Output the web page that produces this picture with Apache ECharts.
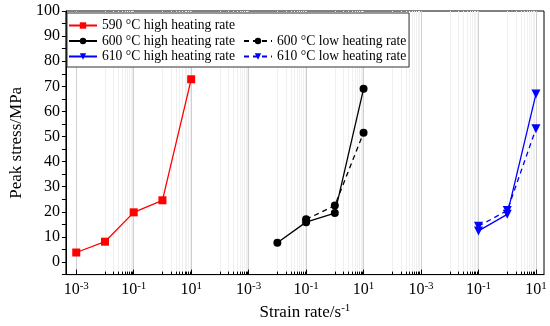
<!DOCTYPE html>
<html><head><meta charset="utf-8">
<script src="https://cdn.jsdelivr.net/npm/echarts@6/dist/echarts.min.js"></script>
<style>html,body{margin:0;padding:0;background:#fff}#c{width:550px;height:326px}</style>
</head><body><div id="c"></div>
<script>
// ---- data ----
const rates590 = [0.001, 0.01, 0.1, 1, 10];
const stress590High = [3.8, 8.1, 19.8, 24.6, 72.8];
const rates600High = [0.01, 0.1, 1, 10];
const stress600High = [7.7, 15.9, 19.5, 69.0];
const rates600Low = [0.1, 1, 10];
const stress600Low = [17.0, 22.5, 51.5];
const rates610 = [0.1, 1, 10];
const stress610High = [12.4, 19.0, 66.9];
const stress610Low = [14.3, 20.5, 53.1];
// broken log axis: each temperature panel shifted by this many decades
const panelDecadeOffsets = [0, 6, 12];
const tickExponents = [-3, -1, 1];
const yTickValues = [0, 10, 20, 30, 40, 50, 60, 70, 80, 90, 100];
const yMinorTickValues = [-5, 0, 5, 10, 15, 20, 25, 30, 35, 40, 45, 50, 55, 60, 65, 70, 75, 80, 85, 90, 95, 100];

const FONT = 'Liberation Serif';
function toX(rate, panel) { return Math.log10(rate) + panelDecadeOffsets[panel]; }

const majorPos = [], majorLabel = {};
panelDecadeOffsets.forEach(off => tickExponents.forEach(e => {
  const p = e + off; majorPos.push(p); majorLabel[p.toFixed(3)] = e;
}));
const minorPos = [];
majorPos.forEach(p => { for (let k = 1; k <= 9; k++) minorPos.push(p + 1 + Math.log10(k)); });

function pts(rates, vals, panel) { return rates.map((r, i) => [toX(r, panel), vals[i]]); }

const RED = '#ff0000', BLK = '#000000', BLU = '#0000ff';
function series(name, data, color, symbol, dashed) {
  return {
    name, type: 'line', data, symbol, symbolSize: symbol === 'triangle' ? 9 : 8,
    symbolRotate: symbol === 'triangle' ? 180 : 0,
    itemStyle: { color }, lineStyle: { color, width: 1.3, type: dashed ? [5, 4] : 'solid' },
    z: 5
  };
}

const legendText = { fontFamily: FONT, fontSize: 13.6, lineHeight: 15, color: '#000' };
const chart = echarts.init(document.getElementById('c'), null, { renderer: 'canvas' });
chart.setOption({
  animation: false,
  backgroundColor: '#fff',
  grid: { left: 57, right: 6, top: 11, bottom: 48, show: true, borderColor: '#000', borderWidth: 1, backgroundColor: 'transparent' },
  legend: [
    {
      data: ['590 °C high heating rate', '600 °C high heating rate', '610 °C high heating rate'],
      orient: 'vertical', left: 67, top: 13, itemWidth: 28, itemHeight: 8, itemGap: 0.5,
      padding: [5, 174, 3, 1], borderColor: '#333', borderWidth: 1, backgroundColor: '#fff',
      textStyle: legendText, z: 10
    },
    {
      data: ['600 °C low heating rate', '610 °C low heating rate'],
      orient: 'vertical', left: 243, top: 33.5, itemWidth: 28, itemHeight: 8, itemGap: 0.5,
      padding: 0, textStyle: legendText, z: 11
    }
  ],
  xAxis: [
    {
      type: 'value', min: -3.36, max: 13.28,
      name: '{a|Strain rate/s}{s|-1}', nameLocation: 'middle', nameGap: 27,
      nameTextStyle: { rich: { a: { fontFamily: FONT, fontSize: 17, color: '#000' }, s: { fontFamily: FONT, fontSize: 11, color: '#000', verticalAlign: 'top', padding: [0, 0, 8, 0] } } },
      axisLine: { onZero: false, lineStyle: { color: '#000', width: 1 } },
      axisTick: { customValues: majorPos, inside: true, length: 5, lineStyle: { color: '#000' } },
      axisLabel: {
        customValues: majorPos, margin: 6,
        formatter: v => '{b|10}{s|' + majorLabel[v.toFixed(3)] + '}',
        rich: { b: { fontFamily: FONT, fontSize: 16, color: '#000' }, s: { fontFamily: FONT, fontSize: 11, color: '#000', verticalAlign: 'top', padding: [0, 0, 8, 0] } }
      },
      splitLine: { show: true, lineStyle: { color: '#d0d0d0', width: 1 } }
    },
    {
      type: 'value', min: -3.36, max: 13.28, position: 'bottom',
      axisLine: { show: false, onZero: false },
      axisTick: { customValues: minorPos, inside: true, length: 3, lineStyle: { color: '#000' } },
      axisLabel: { show: false },
      splitLine: { show: true, lineStyle: { color: '#f0f0f0', width: 1 } }
    }
  ],
  yAxis: [
    {
      type: 'value', min: -5, max: 100,
      name: 'Peak stress/MPa', nameLocation: 'middle', nameGap: 38,
      nameTextStyle: { fontFamily: FONT, fontSize: 17, color: '#000' },
      axisLine: { show: true, onZero: false, lineStyle: { color: '#000', width: 1 } },
      axisTick: { customValues: yMinorTickValues, length: 4, lineStyle: { color: '#000' } },
      axisLabel: { customValues: yTickValues, margin: 6, fontFamily: FONT, fontSize: 16, color: '#000' },
      splitLine: { show: false }
    }
  ],
  series: [
    series('590 °C high heating rate', pts(rates590, stress590High, 0), RED, 'rect', false),
    series('600 °C high heating rate', pts(rates600High, stress600High, 1), BLK, 'circle', false),
    series('600 °C low heating rate', pts(rates600Low, stress600Low, 1), BLK, 'circle', true),
    series('610 °C high heating rate', pts(rates610, stress610High, 2), BLU, 'triangle', false),
    series('610 °C low heating rate', pts(rates610, stress610Low, 2), BLU, 'triangle', true)
  ]
});
</script></body></html>
